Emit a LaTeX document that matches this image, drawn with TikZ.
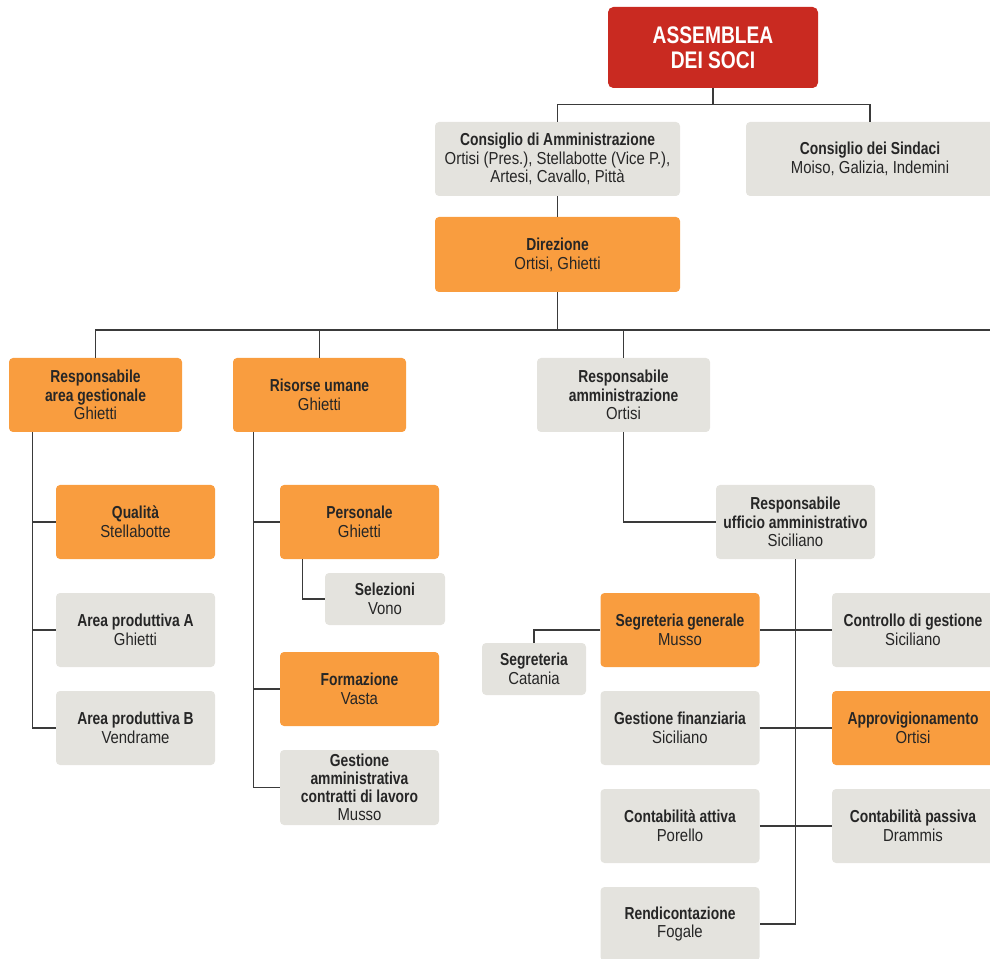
\documentclass[tikz,border=0pt]{standalone}
\usepackage{fontspec}
\setmainfont{Liberation Sans}[FakeStretch=0.86, BoldFeatures={FakeStretch=0.80}]
\definecolor{rosso}{HTML}{C92A21}
\definecolor{arancio}{HTML}{F99D3F}
\definecolor{grigio}{HTML}{E4E3DE}
\definecolor{linea}{HTML}{3A3A3A}
\tikzset{
    box/.style={rounded corners=3pt, minimum height=55.5pt, align=center, inner sep=0pt,
        font=\fontsize{13}{14}\selectfont, text=black!85},
    arancione/.style={box, fill=arancio},
    grigia/.style={box, fill=grigio},
    largo/.style={minimum width=183.75pt},
    medio/.style={minimum width=129.75pt},
    stretto/.style={minimum width=119.25pt},
    conn/.style={draw=linea, line width=1.1pt},
}
\begin{document}
\begin{tikzpicture}[x=0.75pt, y=-0.75pt]
                \useasboundingbox (0,0) rectangle (990,959);
                % vertice
                \node [box, fill=rosso, text=white, rounded corners=4pt, minimum width=157.5pt, minimum height=60.75pt,
                    font=\fontsize{18}{18.75}\selectfont\bfseries] (asm) at (713,47.5) {ASSEMBLEA\\DEI SOCI};
                \node [grigia, largo] (cda) at (557.5,159) {\textbf{Consiglio di Amministrazione}\\Ortisi (Pres.), Stellabotte (Vice P.),\\Artesi, Cavallo, Pittà};
                \node [grigia, minimum width=186pt] (sind) at (870,159) {\textbf{Consiglio dei Sindaci}\\Moiso, Galizia, Indemini};
                \node [arancione, largo, minimum height=56.25pt] (dir) at (557.5,254.5) {\textbf{Direzione}\\Ortisi, Ghietti};
                \coordinate (busR) at (995,330);
                % primo livello
                \node [arancione, medio] (rag) at (95.5,395) {\textbf{Responsabile}\\\textbf{area gestionale}\\Ghietti};
                \node [arancione, medio] (ru) at (319.5,395) {\textbf{Risorse umane}\\Ghietti};
                \node [grigia, medio] (ram) at (623.5,395) {\textbf{Responsabile}\\\textbf{amministrazione}\\Ortisi};
                % area gestionale
                \node [arancione, stretto] (qual) at (135.5,522) {\textbf{Qualità}\\Stellabotte};
                \node [grigia, stretto] (areaA) at (135.5,630) {\textbf{Area produttiva A}\\Ghietti};
                \node [grigia, stretto] (areaB) at (135.5,728) {\textbf{Area produttiva B}\\Vendrame};
                % risorse umane
                \node [arancione, stretto] (pers) at (359.5,522) {\textbf{Personale}\\Ghietti};
                \node [grigia, minimum width=90pt, minimum height=39pt] (sel) at (385,599) {\textbf{Selezioni}\\Vono};
                \node [arancione, stretto] (form) at (359.5,689) {\textbf{Formazione}\\Vasta};
                \node [grigia, stretto, minimum height=56.25pt, font=\fontsize{13}{13.6}\selectfont] (gam) at (359.5,787.5) {\textbf{Gestione}\\\textbf{amministrativa}\\\textbf{contratti di lavoro}\\Musso};
                % amministrazione
                \node [grigia, stretto] (ruff) at (795.5,522) {\textbf{Responsabile}\\\textbf{ufficio amministrativo}\\Siciliano};
                \node [arancione, stretto] (segg) at (680,630) {\textbf{Segreteria generale}\\Musso};
                \node [grigia, minimum width=78pt, minimum height=39pt] (segr) at (534,669) {\textbf{Segreteria}\\Catania};
                \node [grigia, minimum width=121.5pt] (ctrl) at (913,630) {\textbf{Controllo di gestione}\\Siciliano};
                \node [grigia, stretto] (gfin) at (680,728) {\textbf{Gestione finanziaria}\\Siciliano};
                \node [arancione, minimum width=121.5pt] (appr) at (913,728) {\textbf{Approvigionamento}\\Ortisi};
                \node [grigia, stretto] (catt) at (680,826) {\textbf{Contabilità attiva}\\Porello};
                \node [grigia, minimum width=121.5pt] (cpas) at (913,826) {\textbf{Contabilità passiva}\\Drammis};
                \node [grigia, stretto] (rend) at (680,924) {\textbf{Rendicontazione}\\Fogale};
                % collegamenti
                \draw[conn] (asm.south) -- ++(0,16) -| (cda.north);
                \draw[conn] (asm.south) -- ++(0,16) -| (sind.north);
                \draw[conn] (cda.south) -- (dir.north);
                \draw[conn] (rag.north) |- (busR);
                \draw[conn] (ru.north) -- (ru.north |- busR);
                \draw[conn] (ram.north) -- (ram.north |- busR);
                \draw[conn] (dir.south) -- (dir.south |- busR);
                \path (rag.south west) ++(24,0) coordinate (ragL);
                \draw[conn] (ragL) |- (areaB.west);
                \draw[conn] (qual.west) -- (qual.west -| ragL);
                \draw[conn] (areaA.west) -- (areaA.west -| ragL);
                \path (ru.south west) ++(21,0) coordinate (ruL);
                \draw[conn] (ruL) |- (gam.west);
                \draw[conn] (pers.west) -- (pers.west -| ruL);
                \draw[conn] (form.west) -- (form.west -| ruL);
                \path (pers.south west) ++(23,0) coordinate (persL);
                \draw[conn] (persL) |- (sel.west);
                \draw[conn] (ram.south) |- (ruff.west);
                \draw[conn] (ruff.south) |- (rend.east);
                \draw[conn] (segg.east) -- (ctrl.west);
                \draw[conn] (gfin.east) -- (appr.west);
                \draw[conn] (catt.east) -- (cpas.west);
                \draw[conn] (segg.west) -| (segr.north);
\end{tikzpicture}
\end{document}
